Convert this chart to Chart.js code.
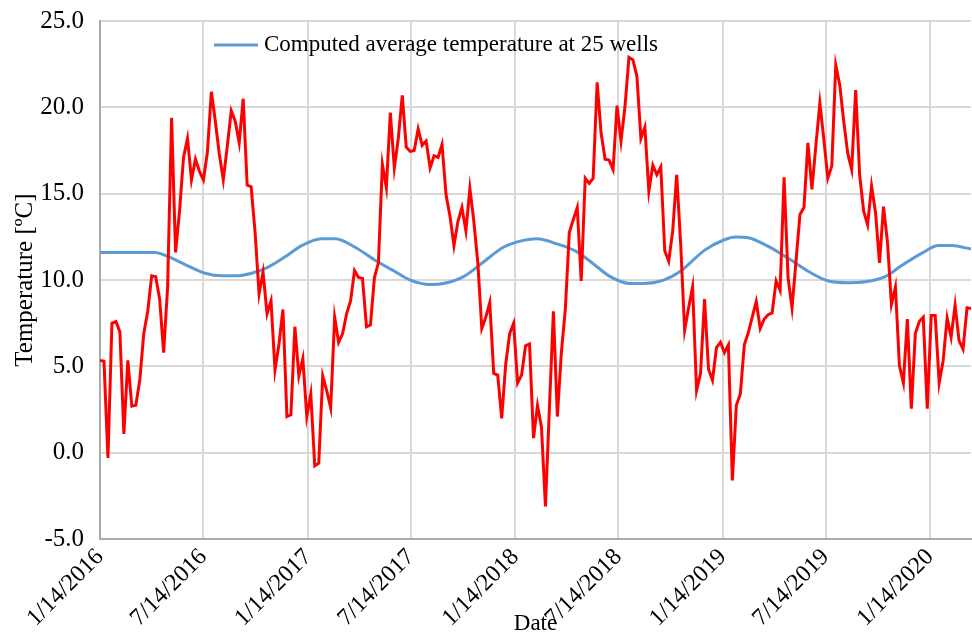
<!DOCTYPE html>
<html>
<head>
<meta charset="utf-8">
<script src="https://cdn.jsdelivr.net/npm/chart.js@4/dist/chart.umd.min.js"></script>
<style>
  body { margin: 0; background: #fff; }
  #wrap { width: 972px; height: 636px; }
</style>
</head>
<body>
<div id="wrap"><canvas id="graficoTemp"></canvas></div>
<script>
// measured temperature, one reading a week from 1/14/2016
const measuredTemps = [
  5.35, 5.3, -0.3, 7.5, 7.6, 7.0, 1.1, 5.35, 2.7, 2.75,
  4.2, 6.9, 8.2, 10.25, 10.2, 8.9, 5.8, 9.6, 19.4, 11.6,
  14.0, 17.1, 18.2, 15.8, 17.0, 16.3, 15.8, 17.4, 20.9, 19.2,
  17.3, 15.8, 17.75, 19.8, 19.2, 17.95, 20.5, 15.5, 15.4, 12.75,
  9.2, 10.45, 8.05, 8.8, 4.8, 6.3, 8.3, 2.1, 2.2, 7.3,
  4.45, 5.45, 2.1, 3.4, -0.75, -0.6, 4.45, 3.6, 2.6, 7.85,
  6.4, 6.9, 8.05, 8.8, 10.55, 10.15, 10.1, 7.3, 7.4, 10.15,
  11.0, 16.7, 15.35, 19.7, 16.5, 18.2, 20.7, 17.7, 17.45, 17.5,
  18.75, 17.8, 18.05, 16.5, 17.2, 17.1, 17.85, 14.95, 13.7, 12.0,
  13.4, 14.2, 12.85, 15.3, 13.4, 11.0, 7.2, 7.85, 8.7, 4.6,
  4.5, 2.0, 5.1, 6.9, 7.5, 4.05, 4.5, 6.2, 6.3, 0.85,
  2.75, 1.5, -3.1, 2.6, 8.2, 2.1, 5.8, 8.3, 12.75, 13.5,
  14.2, 9.95, 15.9, 15.6, 15.9, 21.45, 18.5, 17.0, 16.95, 16.4,
  20.1, 18.05, 20.05, 22.9, 22.75, 21.8, 18.2, 18.85, 15.15, 16.65,
  16.1, 16.55, 11.7, 11.1, 12.85, 16.1, 12.1, 7.1, 8.4, 9.6,
  3.6, 4.6, 8.9, 4.85, 4.2, 6.1, 6.4, 5.8, 6.25, -1.6,
  2.75, 3.4, 6.25, 6.95, 7.85, 8.75, 7.2, 7.75, 8.0, 8.1,
  9.95, 9.4, 15.95, 10.15, 8.4, 11.1, 13.8, 14.2, 17.95, 15.25,
  17.8, 20.25, 18.15, 15.9, 16.6, 22.45, 21.3, 19.2, 17.35, 16.4,
  21.0, 16.1, 14.0, 13.2, 15.45, 13.9, 11.0, 14.25, 12.2, 8.6,
  9.6, 5.05, 4.05, 7.75, 2.55, 6.9, 7.6, 7.85, 2.55, 7.95,
  7.95, 4.05, 5.35, 7.8, 6.7, 8.55, 6.5, 6.0, 8.4, 8.35
];

// computed average at 25 wells (days after 1/14/2016)
const avgDays = [
  0, 97, 117, 150, 185, 214, 238, 267, 296, 326, 355, 390, 414, 449, 484, 519,
  546, 581, 604, 640, 675, 710, 745, 769, 804, 839, 868, 898, 933, 956, 992, 1021,
  1065, 1100, 1118, 1141, 1176, 1212, 1247, 1282, 1317, 1347, 1382, 1411, 1446, 1476, 1499, 1533
];
const avgTemps = [
  11.6, 11.6, 11.4, 10.9, 10.4, 10.25, 10.25, 10.4, 10.75, 11.35, 12.0, 12.4, 12.4, 11.9, 11.15, 10.5,
  10.0, 9.75, 9.8, 10.2, 11.05, 11.9, 12.3, 12.4, 12.1, 11.65, 10.95, 10.2, 9.8, 9.8, 10.0, 10.5,
  11.75, 12.35, 12.5, 12.45, 11.95, 11.25, 10.5, 9.95, 9.85, 9.9, 10.2, 10.85, 11.55, 12.0, 12.0, 11.8
];

const tickDays = [0, 182, 366, 547, 731, 912, 1096, 1277, 1461];
const tickLabels = [
  "1/14/2016", "7/14/2016", "1/14/2017", "7/14/2017", "1/14/2018",
  "7/14/2018", "1/14/2019", "7/14/2019", "1/14/2020"
];

const serif = "'Liberation Serif', 'Times New Roman', serif";

// legend drawn inside the plot, top left
const legendInside = {
  id: "legendInside",
  afterDatasetsDraw(chart) {
    const ctx = chart.ctx;
    const ca = chart.chartArea;
    const ds = chart.data.datasets[1];
    const x = ca.left + 114;
    const y = ca.top + 24;
    ctx.save();
    ctx.strokeStyle = ds.borderColor;
    ctx.lineWidth = 3;
    ctx.beginPath();
    ctx.moveTo(x, y);
    ctx.lineTo(x + 44, y);
    ctx.stroke();
    ctx.fillStyle = "#000";
    ctx.font = "23px " + serif;
    ctx.textBaseline = "middle";
    ctx.fillText(ds.label, x + 50, y);
    ctx.restore();
  }
};

const graficoTemp = document.getElementById("graficoTemp");
new Chart(graficoTemp, {
  type: "line",
  data: {
    datasets: [
      {
        label: "Measured temperature",
        data: measuredTemps.map((t, i) => ({ x: i * 7, y: t })),
        borderColor: "#ff0000",
        borderWidth: 3,
        pointRadius: 0,
        tension: 0,
      },
      {
        label: "Computed average temperature at 25 wells",
        data: avgDays.map((d, i) => ({ x: d, y: avgTemps[i] })),
        borderColor: "#5b9bd5",
        borderWidth: 3,
        pointRadius: 0,
        cubicInterpolationMode: "monotone",
      },
    ],
  },
  options: {
    responsive: true,
    maintainAspectRatio: false,
    animation: false,
    layout: { padding: { top: 0, right: 1, left: 0, bottom: 0 } },
    scales: {
      x: {
        type: "linear",
        min: 0,
        max: 1533,
        afterBuildTicks: (scale) => {
          scale.ticks = tickDays.map((d) => ({ value: d }));
        },
        ticks: {
          autoSkip: false,
          minRotation: 45,
          maxRotation: 45,
          color: "#000",
          padding: 4,
          font: { family: serif, size: 24 },
          callback: (value, index) => tickLabels[index],
        },
        grid: { color: "#d9d9d9", lineWidth: 2, drawTicks: false },
        border: { color: "#aaaaaa", width: 2 },
        title: {
          display: true,
          text: "Date",
          color: "#000",
          font: { family: serif, size: 23 },
          padding: { top: -26, bottom: -2 },
        },
      },
      y: {
        min: -5,
        max: 25,
        afterFit: (scale) => {
          scale.width = 100;
          scale.paddingTop = 21;
        },
        ticks: {
          stepSize: 5,
          color: "#000",
          padding: 16,
          font: { family: serif, size: 25 },
          callback: (value) => value.toFixed(1),
        },
        grid: { color: "#d9d9d9", lineWidth: 2, drawTicks: false },
        border: { color: "#aaaaaa", width: 2 },
        title: {
          display: true,
          text: "Temperature [\u00baC]",
          color: "#000",
          font: { family: serif, size: 25 },
          padding: { top: 10, bottom: 0 },
        },
      },
    },
    plugins: {
      legend: { display: false },
      tooltip: { enabled: false },
    },
  },
  plugins: [legendInside],
});
</script>
</body>
</html>
